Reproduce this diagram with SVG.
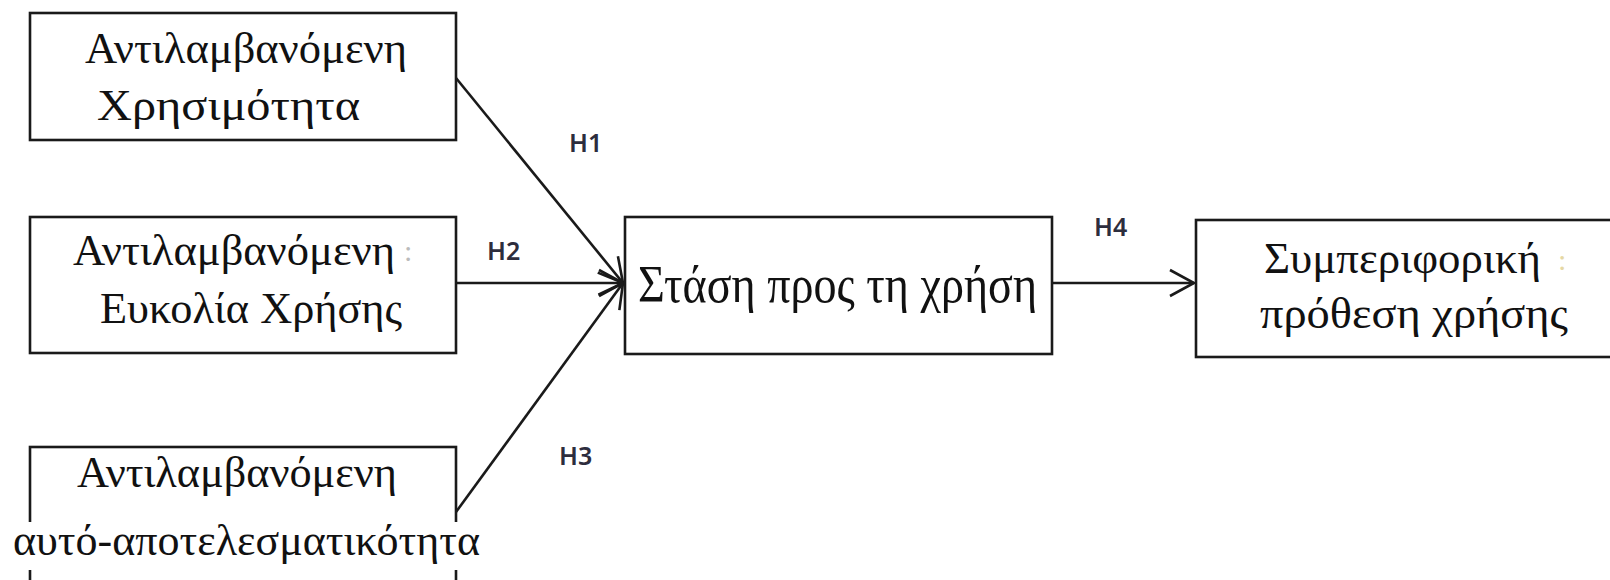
<svg xmlns="http://www.w3.org/2000/svg" width="1610" height="580" viewBox="0 0 1610 580">
<defs>
<style>
.box{fill:#fff;stroke:#1a1a1a;stroke-width:2.6}
.t{font-family:"Liberation Serif","DejaVu Serif",serif;fill:#111}
.lbl{font-family:"Noto Sans","DejaVu Sans",sans-serif;font-size:25px;font-weight:600;fill:#2d2d3d}
.con{stroke:#1a1a1a;stroke-width:2.6;fill:none}
</style>
<marker id="ah" markerUnits="userSpaceOnUse" viewBox="-30 -16 34 32" markerWidth="34" markerHeight="32" refX="0" refY="0" orient="auto">
<path d="M-24,-13 L0,0 L-24,13" fill="none" stroke="#1a1a1a" stroke-width="2.6"/>
</marker>
</defs>
<rect width="1610" height="580" fill="#fff"/>
<g id="connectors">
<line class="con" x1="456" y1="78" x2="623" y2="283" marker-end="url(#ah)"/>
<line class="con" x1="456" y1="283" x2="623" y2="283" marker-end="url(#ah)"/>
<line class="con" x1="456" y1="512" x2="623" y2="283" marker-end="url(#ah)"/>
<line class="con" x1="1052" y1="283" x2="1194" y2="283" marker-end="url(#ah)"/>
<text class="lbl" x="569" y="152">H1</text>
<text class="lbl" x="487" y="260">H2</text>
<text class="lbl" x="559" y="465">H3</text>
<text class="lbl" x="1094" y="236">H4</text>
</g>
<g id="n1">
<rect class="box" x="30" y="13" width="426" height="127"/>
<text class="t" font-size="44" x="85" y="63" textLength="322" lengthAdjust="spacingAndGlyphs">Αντιλαμβανόμενη</text>
<text class="t" font-size="44" x="97" y="120" textLength="263" lengthAdjust="spacingAndGlyphs">Χρησιμότητα</text>
</g>
<g id="n2">
<rect class="box" x="30" y="217" width="426" height="136"/>
<text class="t" font-size="44" x="73" y="265" textLength="322" lengthAdjust="spacingAndGlyphs">Αντιλαμβανόμενη</text>
<text class="t" font-size="30" x="404" y="261" style="fill:#bbbbbb">:</text>
<text class="t" font-size="44" x="100" y="323" textLength="302" lengthAdjust="spacingAndGlyphs">Ευκολία Χρήσης</text>
</g>
<g id="n3">
<rect class="box" x="30" y="447" width="426" height="160"/>
<rect x="10" y="522" width="480" height="48" fill="#fff"/>
<text class="t" font-size="44" x="77" y="487" textLength="320" lengthAdjust="spacingAndGlyphs">Αντιλαμβανόμενη</text>
<text class="t" font-size="44" x="13" y="555" textLength="467" lengthAdjust="spacingAndGlyphs">αυτό-αποτελεσματικότητα</text>
</g>
<g id="n4">
<rect class="box" x="625" y="217" width="427" height="137"/>
<text class="t" font-size="52" x="638" y="302" textLength="399" lengthAdjust="spacingAndGlyphs">Στάση προς τη χρήση</text>
</g>
<g id="n5">
<rect class="box" x="1196" y="220" width="430" height="137"/>
<text class="t" font-size="44" x="1264" y="273" textLength="277" lengthAdjust="spacingAndGlyphs">Συμπεριφορική</text>
<text class="t" font-size="30" x="1558" y="270" style="fill:#e6d8a4">:</text>
<text class="t" font-size="44" x="1260" y="328" textLength="308" lengthAdjust="spacingAndGlyphs">πρόθεση χρήσης</text>
</g>
</svg>
